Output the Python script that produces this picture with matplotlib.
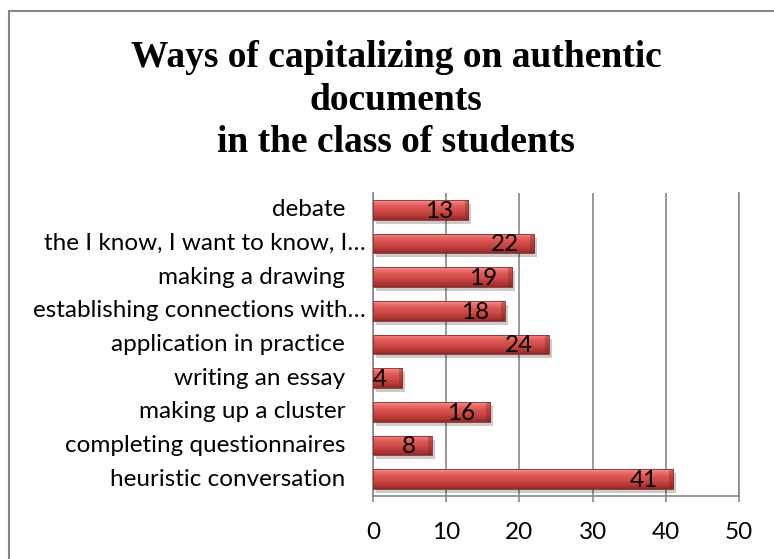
import numpy as np
import matplotlib
matplotlib.use('Agg')
import matplotlib.pyplot as plt
from matplotlib.patches import Rectangle
from matplotlib.transforms import ScaledTranslation

# Survey answers, listed bottom to top as they appear on the axis
categories = ['heuristic conversation', 'completing questionnaires',
              'making up a cluster', 'writing an essay',
              'application in practice', 'establishing connections with\u2026',
              'making a drawing', 'the I know, I want to know, I\u2026',
              'debate']
counts = [41, 8, 16, 4, 24, 18, 19, 22, 13]
xticks = [0, 10, 20, 30, 40, 50]
title = 'Ways of capitalizing on authentic\ndocuments\nin the class of students'

W, H, DPI = 774, 559, 100
fig = plt.figure(figsize=(W / DPI, H / DPI), dpi=DPI)
ax = fig.add_axes([373 / W, 1 - 496 / H, (739 - 373) / W, (496 - 193) / H])

grey = '#888888'
bar_h = 0.58
ypos = np.arange(len(categories))
fsize = 17.5

# vertical shading used for the bevelled bars (top light -> bottom dark)
stops = np.array([[0.97, 0.62, 0.62], [0.94, 0.46, 0.45], [0.86, 0.34, 0.33],
                  [0.80, 0.28, 0.27], [0.66, 0.20, 0.19], [0.55, 0.16, 0.16]])
pos = np.array([0.0, 0.12, 0.35, 0.6, 0.88, 1.0])
t = np.linspace(0, 1, 64)
grad = np.stack([np.interp(t, pos, stops[:, k]) for k in range(3)], axis=1)
grad = grad[:, None, :]

shadow_tf = ax.transData + ScaledTranslation(3 / DPI, -4 / DPI, fig.dpi_scale_trans)

for y, v in zip(ypos, counts):
    # soft drop shadow
    for a in [0.05, 0.07, 0.09]:
        sh = Rectangle((0, y - bar_h / 2), v, bar_h, transform=shadow_tf,
                       facecolor='black', alpha=a, edgecolor='none', zorder=2)
        ax.add_patch(sh)
    bar = ax.barh(y, v, height=bar_h, color='#C0504D', edgecolor='none',
                  zorder=3)[0]
    im = ax.imshow(grad, extent=(0, v, y - bar_h / 2, y + bar_h / 2),
                   aspect='auto', origin='upper', zorder=3.5,
                   interpolation='bilinear')
    im.set_clip_path(bar)
    # darker bevel at the right end of the bar
    ax.add_patch(Rectangle((v - 0.5, y - bar_h / 2), 0.5, bar_h,
                           facecolor='#7a2422', alpha=0.35, edgecolor='none',
                           zorder=3.6))
    ax.add_patch(Rectangle((0, y - bar_h / 2), v, bar_h, facecolor='none',
                           edgecolor='#8c2c2a', lw=0.6, zorder=3.7))
    ax.annotate(str(v), xy=(v, y), xytext=(-11, -1), textcoords='offset points',
                ha='right', va='center', fontsize=fsize, family='Lato',
                color='black', zorder=5)

ax.set_xlim(0, 50)
ax.set_ylim(-0.5, len(categories) - 0.5)
ax.set_xticks(xticks)
ax.set_xticklabels([str(x) for x in xticks], fontsize=fsize, family='Lato')
ax.tick_params(axis='x', length=4, color=grey, width=1.2, pad=15)
ax.set_yticks([])
ax.grid(axis='x', color=grey, lw=1.2, zorder=1)
ax.set_axisbelow(True)
for side in ['left', 'bottom', 'right']:
    ax.spines[side].set_color(grey)
    ax.spines[side].set_linewidth(1.2)
ax.spines['top'].set_visible(False)

# category labels; the truncated ones sit closer to the axis
for y, lab in zip(ypos, categories):
    off = -5 if lab.endswith('\u2026') else -20
    ax.annotate(lab, xy=(0, y), xycoords=('axes fraction', 'data'),
                xytext=(off, 0), textcoords='offset points',
                ha='right', va='center', fontsize=fsize, family='Lato')

fig.text(396 / W, 1 - 100 / H, title, ha='center', va='center',
         fontsize=27, fontweight='bold', family='Liberation Serif',
         linespacing=1.28)

# chart frame
fig.patches.append(Rectangle((9 / W, -0.1), 1.2, 1 - 11 / H + 0.1,
                             transform=fig.transFigure, fill=False,
                             edgecolor=grey, lw=1.5))

fig.savefig('out.png', dpi=DPI)
